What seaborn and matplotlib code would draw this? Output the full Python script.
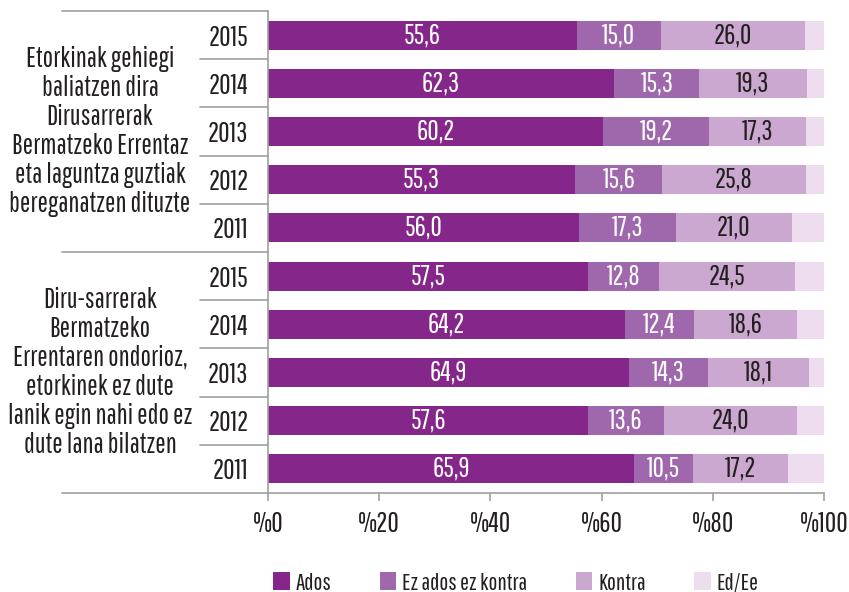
import matplotlib
matplotlib.use("Agg")
import matplotlib.pyplot as plt
import seaborn as sns
import pandas as pd
import numpy as np
from matplotlib.patches import Patch
from matplotlib.lines import Line2D

# ---------------- data ----------------
groups = [
    "Etorkinak gehiegi\nbaliatzen dira\nDirusarrerak\nBermatzeko Errentaz\neta laguntza guztiak\nbereganatzen dituzte",
    "Diru-sarrerak\nBermatzeko\nErrentaren ondorioz,\netorkinek ez dute\nlanik egin nahi edo ez\ndute lana bilatzen",
]
years = ["2015", "2014", "2013", "2012", "2011"]
series = ["Ados", "Ez ados ez kontra", "Kontra", "Ed/Ee"]

ados_1 = [55.6, 62.3, 60.2, 55.3, 56.0]
ez_1 = [15.0, 15.3, 19.2, 15.6, 17.3]
kontra_1 = [26.0, 19.3, 17.3, 25.8, 21.0]
ados_2 = [57.5, 64.2, 64.9, 57.6, 65.9]
ez_2 = [12.8, 12.4, 14.3, 13.6, 10.5]
kontra_2 = [24.5, 18.6, 18.1, 24.0, 17.2]

colors = ["#84268A", "#A068AC", "#CBA8D0", "#EEDDEE"]
label_colors = ["white", "white", "#231F20", None]

# ---------------- table ----------------
rows = []
for gi, (a, e, k) in enumerate([(ados_1, ez_1, kontra_1), (ados_2, ez_2, kontra_2)]):
    for yi, yr in enumerate(years):
        ed = round(100 - a[yi] - e[yi] - k[yi], 1)
        rows.append({"row": f"g{gi}-{yr}", "year": yr, "Ados": a[yi],
                     "Ez ados ez kontra": e[yi], "Kontra": k[yi], "Ed/Ee": ed})
df = pd.DataFrame(rows)
order = list(df["row"])
cum = df[series].cumsum(axis=1)

# ---------------- figure ----------------
sns.set_style("white")
plt.rcParams["font.family"] = ["Pathway Gothic One", "DejaVu Sans"]
txt = "#231F20"
grey = "#A0A0A0"
FS = 20
FS_LEG = 17

fig = plt.figure(figsize=(8.49, 5.92), dpi=100)
ax = fig.add_axes([268 / 849, 1 - 493 / 592, 556 / 849, 482 / 592])

for si in range(len(series) - 1, -1, -1):
    sns.barplot(data=cum.assign(row=df["row"]), x=series[si], y="row", order=order,
                orient="h", color=colors[si], width=0.6, saturation=1,
                edgecolor="none", linewidth=0, ax=ax)

ax.set_xlim(0, 100)
ax.set_ylim(len(order) - 0.5, -0.5)
ax.set_xlabel("")
ax.set_ylabel("")
ax.set_xticks(range(0, 101, 20))
ax.set_xticklabels([f"%{v}" for v in range(0, 101, 20)])
ax.set_yticks(range(len(order)))
ax.set_yticklabels(df["year"])
ax.tick_params(axis="y", length=0, pad=14, labelsize=FS, labelcolor=txt)
ax.tick_params(axis="x", length=6, width=1.2, color=grey, pad=7, labelsize=FS,
               labelcolor=txt, direction="out", bottom=True)
for s in ["top", "right"]:
    ax.spines[s].set_visible(False)
for s in ["left", "bottom"]:
    ax.spines[s].set_color(grey)
    ax.spines[s].set_linewidth(1.2)

# value labels
for ri in range(len(df)):
    left = 0
    for si, s in enumerate(series):
        v = df[s].iloc[ri]
        if label_colors[si] is not None:
            ax.text(left + v / 2, ri, f"{v:.1f}".replace(".", ","), ha="center",
                    va="center", color=label_colors[si], fontsize=FS)
        left += v

# separators and group labels
tr = ax.get_yaxis_transform()
x_group = (62 - 268) / 556
x_year = (200 - 268) / 556
n = len(years)
for b in range(len(order) + 1):
    x0 = x_group if b % n == 0 else x_year
    ax.add_line(Line2D([x0, 0], [b - 0.5, b - 0.5], transform=tr, color=grey,
                       lw=1.2, clip_on=False))
x_lab = (100 - 268) / 556
for gi, g in enumerate(groups):
    ax.text(x_lab, gi * n + 2, g, transform=tr, ha="center", va="center",
            fontsize=FS, color=txt, linespacing=1.15)

# legend
handles = [Patch(facecolor=c, edgecolor="none") for c in colors]
fig.legend(handles, series, loc="center", bbox_to_anchor=(516 / 849, 1 - 583 / 592),
           ncol=4, frameon=False, fontsize=FS_LEG, handlelength=0.7, handleheight=0.8,
           handletextpad=0.25, columnspacing=2.05, labelcolor=txt)

fig.savefig("out.png", dpi=100)
